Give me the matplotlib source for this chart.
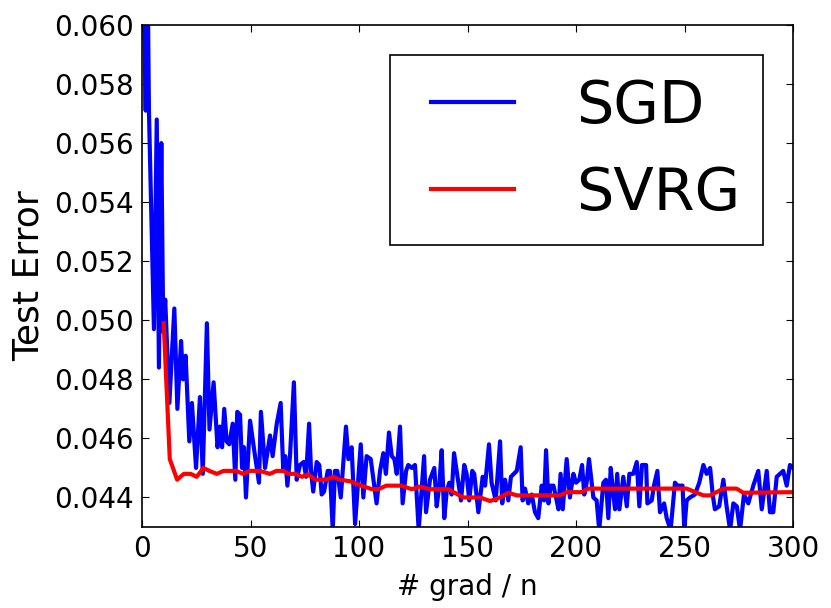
import matplotlib
matplotlib.use('Agg')
import matplotlib.pyplot as plt
from matplotlib.lines import Line2D
from matplotlib.legend_handler import HandlerLine2D
from matplotlib.ticker import FormatStrFormatter

# SGD test error
sgd_x = [0.5, 1.7, 2.5, 3.2, 5.5, 6.8, 7.8, 8.9, 9.8, 10.7, 12.6, 14.9, 16.3, 18.0, 18.9,
         20.1, 21.8, 23.0, 24.9, 26.7, 28.0, 29.9, 31.1, 33.0, 34.8, 35.9, 36.9, 37.9, 39.0,
         40.2, 41.8, 43.0, 43.9, 45.2, 46.1, 47.0, 47.9, 49.8, 52.1, 53.9, 54.8, 56.7, 59.0,
         60.2, 62.1, 63.9, 65.1, 66.0, 67.0, 68.2, 70.0, 71.3, 72.8, 74.5, 75.6, 77.0, 77.9,
         78.9, 80.5, 81.7, 82.8, 83.9, 85.6, 86.6, 87.9, 88.9, 90.0, 91.6, 94.0, 95.1, 96.6,
         98.2, 100.8, 102.0, 103.5, 105.4, 108.1, 109.7, 111.2, 112.4, 113.8, 115.1, 116.3,
         117.4, 118.9, 120.1, 121.7, 122.7, 124.3, 125.8, 127.5, 130.0, 130.9, 132.7, 134.7,
         135.8, 137.0, 138.1, 139.3, 140.4, 141.6, 142.7, 143.8, 145.0, 147.0, 148.5, 149.6,
         150.8, 152.2, 153.1, 155.0, 157.0, 158.1, 159.9, 161.1, 163.0, 165.0, 166.0, 167.3,
         168.8, 170.0, 172.7, 174.5, 175.4, 176.5, 178.0, 179.6, 181.1, 182.6, 184.2, 185.3,
         186.2, 187.3, 188.3, 189.6, 190.8, 191.9, 192.9, 193.9, 195.7, 197.2, 198.8, 200.0,
         201.5, 202.8, 203.8, 204.9, 206.0, 208.0, 209.5, 210.7, 212.6, 213.8, 214.9, 216.0,
         217.2, 218.0, 219.0, 220.0, 221.8, 223.4, 224.6, 226.4, 228.0, 229.2, 230.4, 232.3,
         232.9, 234.9, 235.9, 237.5, 238.7, 240.6, 241.8, 243.6, 245.6, 246.8, 247.9, 249.1,
         249.9, 251.0, 252.5, 254.8, 256.8, 258.7, 260.2, 261.8, 263.0, 264.0, 266.0, 267.9,
         269.4, 271.0, 272.5, 274.1, 275.6, 277.4, 279.4, 281.7, 284.0, 285.6, 287.9, 289.4,
         290.9, 292.5, 294.0, 295.5, 297.1, 298.6, 300.0]
sgd_err = [0.0625, 0.0571, 0.0625, 0.0571, 0.0497, 0.0568, 0.0484, 0.0560, 0.0496, 0.0507,
           0.0472, 0.0504, 0.0470, 0.0493, 0.0480, 0.0488, 0.0459, 0.0472, 0.0450, 0.0474,
           0.0448, 0.0499, 0.0463, 0.0479, 0.0457, 0.0464, 0.0457, 0.0470, 0.0459, 0.0458,
           0.0465, 0.0446, 0.0469, 0.0468, 0.0450, 0.0457, 0.0440, 0.0466, 0.0454, 0.0445,
           0.0469, 0.0450, 0.0461, 0.0454, 0.0465, 0.0472, 0.0449, 0.0454, 0.0444, 0.0454,
           0.0479, 0.0446, 0.0451, 0.0452, 0.0447, 0.0465, 0.0449, 0.0442, 0.0452, 0.0451,
           0.0441, 0.0442, 0.0449, 0.0449, 0.0429, 0.0449, 0.0449, 0.0440, 0.0464, 0.0453,
           0.0457, 0.0431, 0.0458, 0.0440, 0.0454, 0.0453, 0.0438, 0.0449, 0.0455, 0.0448,
           0.0462, 0.0454, 0.0453, 0.0448, 0.0464, 0.0438, 0.0449, 0.0451, 0.0450, 0.0451,
           0.0429, 0.0454, 0.0435, 0.0446, 0.0450, 0.0437, 0.0444, 0.0456, 0.0433, 0.0442,
           0.0445, 0.0441, 0.0455, 0.0449, 0.0439, 0.0451, 0.0448, 0.0439, 0.0449, 0.0448,
           0.0435, 0.0447, 0.0444, 0.0458, 0.0445, 0.0439, 0.0459, 0.0438, 0.0446, 0.0439,
           0.0447, 0.0449, 0.0457, 0.0439, 0.0443, 0.0438, 0.0441, 0.0435, 0.0433, 0.0444,
           0.0439, 0.0456, 0.0438, 0.0444, 0.0444, 0.0440, 0.0436, 0.0448, 0.0436, 0.0453,
           0.0440, 0.0448, 0.0445, 0.0446, 0.0451, 0.0441, 0.0445, 0.0453, 0.0440, 0.0439,
           0.0429, 0.0445, 0.0446, 0.0433, 0.0450, 0.0441, 0.0436, 0.0448, 0.0436, 0.0447,
           0.0437, 0.0448, 0.0448, 0.0452, 0.0437, 0.0451, 0.0451, 0.0438, 0.0439, 0.0444,
           0.0449, 0.0435, 0.0438, 0.0433, 0.0429, 0.0445, 0.0444, 0.0444, 0.0444, 0.0429,
           0.0439, 0.0440, 0.0441, 0.0445, 0.0451, 0.0448, 0.0450, 0.0441, 0.0436, 0.0437,
           0.0446, 0.0437, 0.0429, 0.0438, 0.0437, 0.0429, 0.0441, 0.0438, 0.0444, 0.0449,
           0.0436, 0.0449, 0.0435, 0.0435, 0.0447, 0.0448, 0.0449, 0.0444, 0.0451, 0.0450]

# SVRG test error
svrg_x = [10.0, 12.8, 16.2, 19.3, 22.4, 25.2, 28.3, 31.0, 34.5, 37.6, 43.4, 46.5, 49.6,
          54.3, 58.9, 62.0, 65.2, 67.5, 70.6, 73.7, 76.5, 79.9, 84.6, 88.2, 91.2, 95.9,
          101.0, 106.0, 109.0, 112.5, 119.5, 124.3, 128.0, 132.7, 141.2, 148.0, 155.8,
          160.4, 165.0, 168.8, 172.7, 183.4, 192.6, 195.7, 202.6, 205.7, 229.5, 251.0,
          258.7, 261.8, 267.9, 274.0, 277.1, 300.0]
svrg_err = [0.0499, 0.0453, 0.0446, 0.0448, 0.0448, 0.0447, 0.0450, 0.0449, 0.0448, 0.0449,
            0.0449, 0.0448, 0.0449, 0.0449, 0.0448, 0.0449, 0.0449, 0.0448, 0.0448, 0.0447,
            0.04478, 0.0446, 0.0446, 0.0447, 0.0446, 0.04455, 0.0444, 0.04428, 0.04428,
            0.0444, 0.0444, 0.04428, 0.04437, 0.04428, 0.04428, 0.0440, 0.0440, 0.04388,
            0.0440, 0.04416, 0.04407, 0.04407, 0.04407, 0.04418, 0.04418, 0.0443, 0.0443,
            0.0443, 0.04407, 0.04407, 0.0443, 0.0443, 0.04416, 0.04418]

x_ticks = [0, 50, 100, 150, 200, 250, 300]
y_ticks = [0.044, 0.046, 0.048, 0.050, 0.052, 0.054, 0.056, 0.058, 0.060]

fig = plt.figure(figsize=(8.31, 6.08), dpi=100)
ax = fig.add_axes([142 / 831, 1 - 527 / 608, 651 / 831, 502 / 608])

ax.plot(sgd_x, sgd_err, color='b', linewidth=3, label='SGD')
ax.plot(svrg_x, svrg_err, color='r', linewidth=3, label='SVRG')

ax.set_xlim(0, 300)
ax.set_ylim(0.043, 0.060)
ax.set_xticks(x_ticks)
ax.set_yticks(y_ticks)
ax.yaxis.set_major_formatter(FormatStrFormatter('%.3f'))
ax.tick_params(direction='in', top=True, right=True, labelsize=20, length=5, pad=6)
for s in ax.spines.values():
    s.set_linewidth(1.2)

ax.set_xlabel('# grad / n', fontsize=20, labelpad=7)
ax.set_ylabel('Test Error', fontsize=26, labelpad=6)

# old-style legend: two-point handle with padding on both ends
leg = ax.legend(loc='upper right', fontsize=42.5, fancybox=False, framealpha=1,
                handlelength=2.0, handletextpad=0.75, borderaxespad=0.5,
                labelspacing=0.5, borderpad=0.4,
                handler_map={Line2D: HandlerLine2D(numpoints=2, marker_pad=0.3)})
leg.get_frame().set_edgecolor('black')
leg.get_frame().set_linewidth(1.2)

fig.savefig('out.png', dpi=100)
